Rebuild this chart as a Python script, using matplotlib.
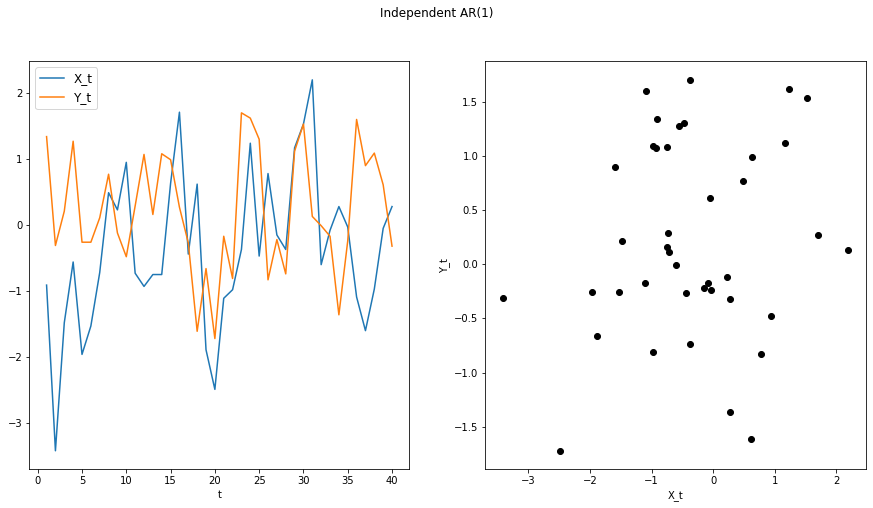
import numpy as np
import matplotlib
matplotlib.use("Agg")
import matplotlib.pyplot as plt

t = list(range(1, 41))
X_t = [-0.91, -3.42, -1.48, -0.56, -1.96, -1.53, -0.72, 0.49, 0.23, 0.95,
       -0.73, -0.93, -0.75, -0.75, 0.63, 1.71, -0.44, 0.62, -1.89, -2.49,
       -1.11, -0.98, -0.37, 1.24, -0.47, 0.78, -0.15, -0.37, 1.17, 1.53,
       2.20, -0.60, -0.08, 0.28, -0.03, -1.09, -1.60, -0.97, -0.05, 0.28]
Y_t = [1.34, -0.31, 0.21, 1.27, -0.26, -0.26, 0.11, 0.77, -0.12, -0.48,
       0.29, 1.07, 0.16, 1.08, 0.99, 0.27, -0.27, -1.61, -0.66, -1.72,
       -0.17, -0.81, 1.70, 1.62, 1.30, -0.83, -0.22, -0.74, 1.12, 1.53,
       0.13, -0.01, -0.17, -1.36, -0.24, 1.60, 0.90, 1.09, 0.61, -0.32]

W, H = 873, 508
fig = plt.figure(figsize=(W / 72, H / 72), dpi=72)
ax1 = fig.add_axes([29.3 / W, 1 - 469.3 / H, 380 / W, 408 / H])
ax2 = fig.add_axes([485.3 / W, 1 - 469.3 / H, 380.4 / W, 408 / H])

ax1.plot(t, X_t, label="X_t")
ax1.plot(t, Y_t, label="Y_t")
ax1.set_xlabel("t")
ax1.legend(loc="upper left", fontsize=12)

ax2.plot(X_t, Y_t, "ko")
ax2.set_xlabel("X_t")
ax2.set_ylabel("Y_t")

fig.suptitle("Independent AR(1)", y=1 - 13 / H, va="center", fontsize=12)
fig.savefig("out.png", dpi=72)
